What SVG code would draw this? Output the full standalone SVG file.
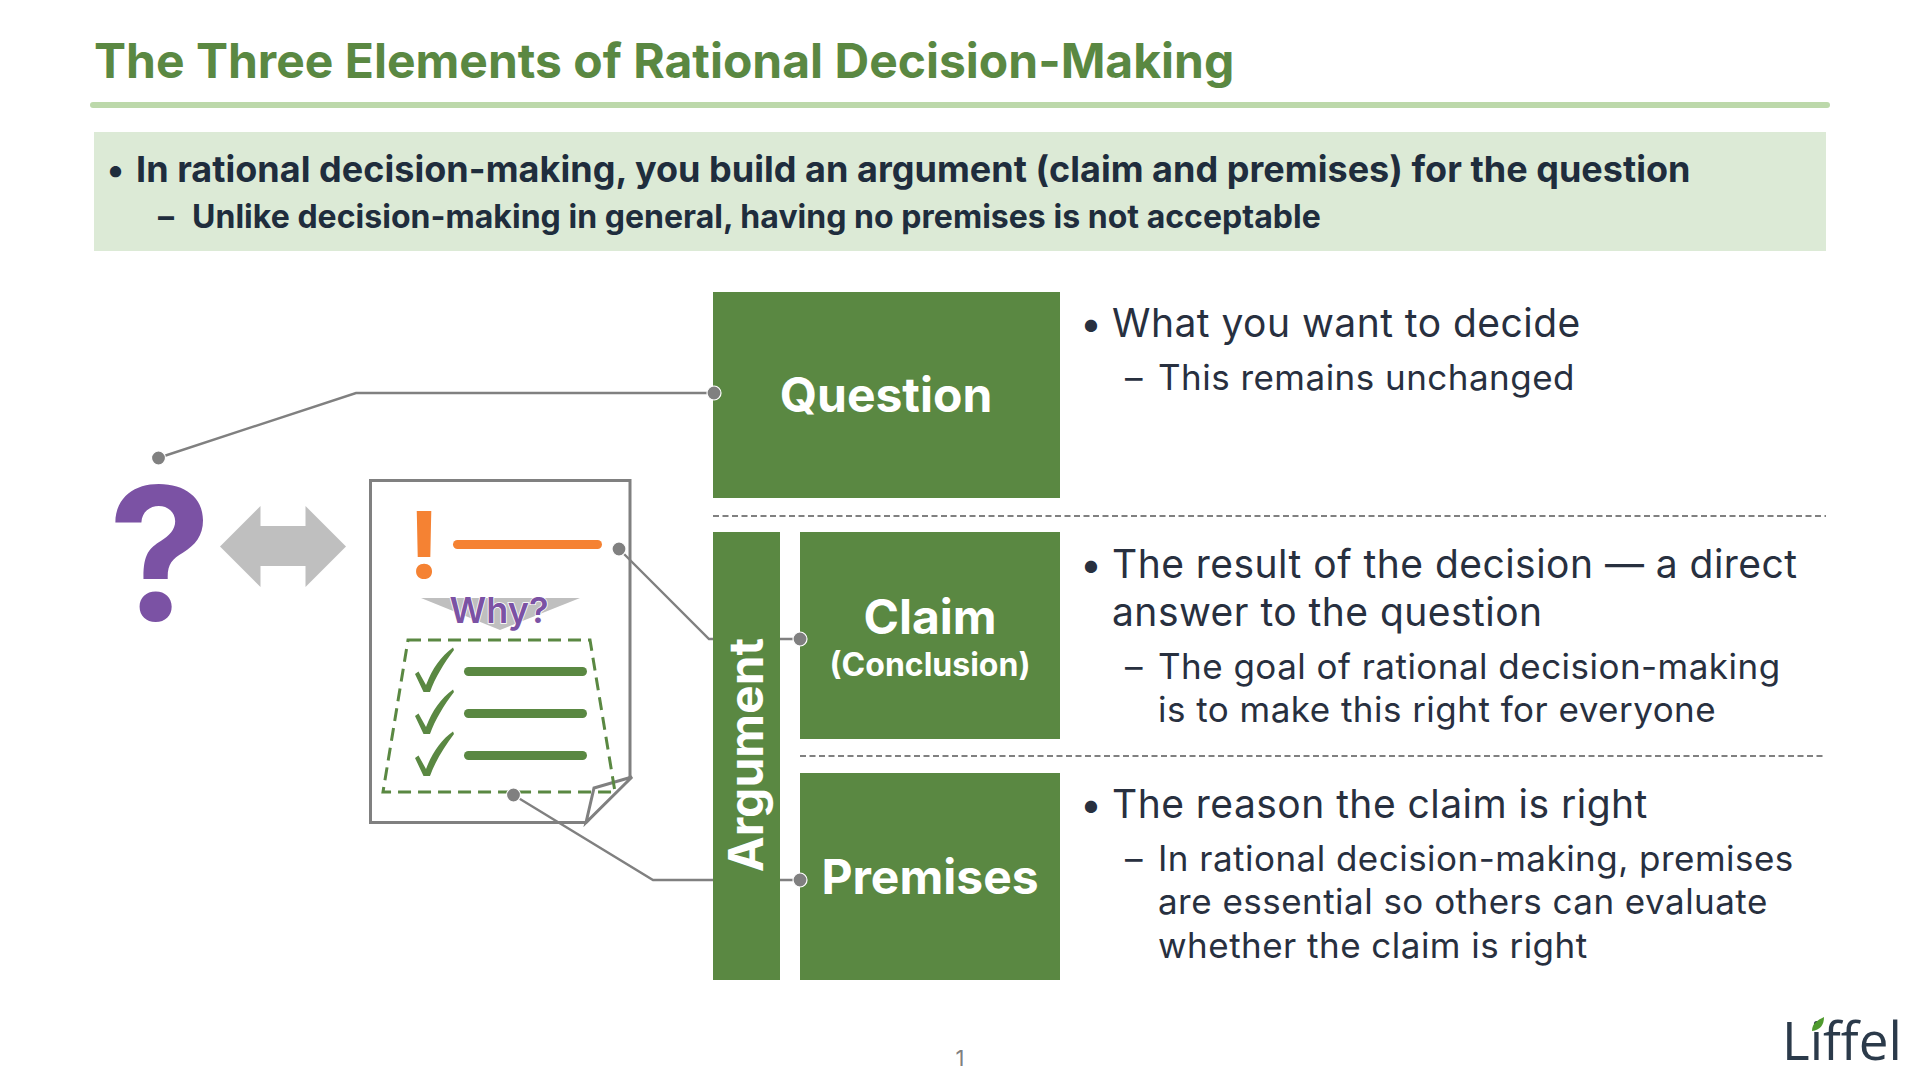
<svg xmlns="http://www.w3.org/2000/svg" width="1920" height="1080" viewBox="0 0 1920 1080">
<defs>
<style>
text{font-family:Inter,"Liberation Sans",sans-serif}
.g{fill:#5A8842}
.nl{fill:#fff;font-weight:700;text-anchor:middle}
.b1{font-size:39px;fill:#28303F;letter-spacing:.47px}
.b2{font-size:35px;fill:#28303F;letter-spacing:.47px}
.bu{font-size:39px;fill:#28303F}
.hb{font-weight:700;fill:#1F2D3D;letter-spacing:.03px}
.conn{fill:none;stroke:#808080;stroke-width:2.4}
.dot{fill:#808080;stroke:#fff;stroke-width:1.2}
.sep{stroke:#808080;stroke-width:1.8;stroke-dasharray:6 3.5}
.bar{stroke-linecap:round;stroke-width:9;fill:none}
</style>
<path id="chk" d="M415 674 L418.500 671.500 L426 685 C432 669 441 656 453 647.500 L454 650 C444 663 435 678 430 692 L423.500 692Z"/>
</defs>
<rect width="1920" height="1080" fill="#fff"/>
<g id="header">
<text x="94" y="78" font-size="48" font-weight="700" fill="#5A8842">The Three Elements of Rational Decision-Making</text>
<rect x="90" y="102" width="1740" height="6" rx="3" fill="#BCD8AA"/>
<rect x="94" y="132" width="1732" height="119" fill="#DCEAD6"/>
<text class="hb" x="107" y="182" font-size="36">•</text>
<text class="hb" x="136" y="182" font-size="36">In rational decision-making, you build an argument (claim and premises) for the question</text>
<text class="hb" x="158" y="228" font-size="32">–</text>
<text class="hb" x="192" y="228" font-size="32">Unlike decision-making in general, having no premises is not acceptable</text>
</g>
<g id="separators">
<line class="sep" x1="713" y1="516" x2="1826" y2="516"/>
<line class="sep" x1="800" y1="756" x2="1826" y2="756"/>
</g>
<g id="node-question-mark">
<text x="160" y="620" font-size="185" font-weight="700" fill="#7B52A4" text-anchor="middle">?</text>
<polygon fill="#BFBFBF" points="220,546.5 260.5,506 260.5,526 305.5,526 305.5,506 346,546.5 305.5,587 305.5,566 260.5,566 260.5,587"/>
</g>
<g id="node-document">
<path d="M370.500 480.500H630V777L586 822.500H370.500Z" fill="#fff" stroke="#808080" stroke-width="3"/>
<path d="M586 822.500L594 788L632 777Z" fill="#fff" stroke="#808080" stroke-width="3"/>
<text x="424" y="578" font-size="92" font-weight="700" fill="#F58233" text-anchor="middle">!</text>
<line class="bar" x1="457.500" y1="544.500" x2="597.500" y2="544.500" stroke="#F58233"/>
<polygon fill="#BFBFBF" points="421,598 580,598 500,630"/>
<text x="499" y="623" font-size="36" font-weight="600" fill="#7B52A4" text-anchor="middle" stroke="#fff" stroke-width="1.6" paint-order="stroke">Why?</text>
<polygon points="408,640 590,640 615,792 383,792" fill="none" stroke="#5A8842" stroke-width="3" stroke-dasharray="13 7"/>
<use href="#chk" class="g"/>
<use href="#chk" class="g" y="42"/>
<use href="#chk" class="g" y="84"/>
<line class="bar" x1="468.500" y1="671.500" x2="582.500" y2="671.500" stroke="#5A8842"/>
<line class="bar" x1="468.500" y1="713.500" x2="582.500" y2="713.500" stroke="#5A8842"/>
<line class="bar" x1="468.500" y1="755.500" x2="582.500" y2="755.500" stroke="#5A8842"/>
</g>
<g id="connectors">
<polyline class="conn" points="158,458 356,393 714,393"/>
<polyline class="conn" points="619,549 709,639 800,639"/>
<polyline class="conn" points="513.500,795 653,880 800,880"/>
</g>
<g id="node-question">
<rect class="g" x="713" y="292" width="347" height="206"/>
<text class="nl" x="886" y="412" font-size="48">Question</text>
</g>
<g id="node-argument">
<rect class="g" x="713" y="532" width="67" height="448"/>
<text class="nl" transform="translate(763 755) rotate(-90)" font-size="48">Argument</text>
</g>
<g id="node-claim">
<rect class="g" x="800" y="532" width="260" height="207"/>
<text class="nl" x="930" y="634" font-size="48">Claim</text>
<text class="nl" x="930" y="676" font-size="32">(Conclusion)</text>
</g>
<g id="node-premises">
<rect class="g" x="800" y="773" width="260" height="207"/>
<text class="nl" x="930" y="894" font-size="48">Premises</text>
</g>
<g id="connector-dots">
<circle class="dot" cx="158.500" cy="458" r="7"/>
<circle class="dot" cx="714" cy="393" r="7"/>
<circle class="dot" cx="619" cy="549" r="7"/>
<circle class="dot" cx="800" cy="639" r="7"/>
<circle class="dot" cx="513.500" cy="795" r="7"/>
<circle class="dot" cx="800" cy="880" r="7"/>
</g>
<g id="text-question">
<text class="bu" x="1080" y="337">•</text>
<text class="b1" x="1112" y="337">What you want to decide</text>
<text class="b2" x="1125" y="390">–</text>
<text class="b2" x="1158" y="390">This remains unchanged</text>
</g>
<g id="text-claim">
<text class="bu" x="1080" y="578">•</text>
<text class="b1" x="1112" y="578">The result of the decision — a direct</text>
<text class="b1" x="1112" y="626">answer to the question</text>
<text class="b2" x="1125" y="679">–</text>
<text class="b2" x="1158" y="679">The goal of rational decision-making</text>
<text class="b2" x="1158" y="722">is to make this right for everyone</text>
</g>
<g id="text-premises">
<text class="bu" x="1080" y="818">•</text>
<text class="b1" x="1112" y="818">The reason the claim is right</text>
<text class="b2" x="1125" y="871">–</text>
<text class="b2" x="1158" y="871">In rational decision-making, premises</text>
<text class="b2" x="1158" y="914">are essential so others can evaluate</text>
<text class="b2" x="1158" y="958">whether the claim is right</text>
</g>
<g id="footer">
<text x="960" y="1066" font-size="22" fill="#808080" text-anchor="middle">1</text>
<text x="1782" y="1060" font-size="53" fill="#2B3A4A" style="font-family:'Open Sans',sans-serif;font-variant-ligatures:none">Liffel</text>
<path d="M1812 1031C1812 1023 1818 1020 1824 1017C1824 1025 1820 1030 1812 1031Z" fill="#4F9A2E"/>
</g>
</svg>
